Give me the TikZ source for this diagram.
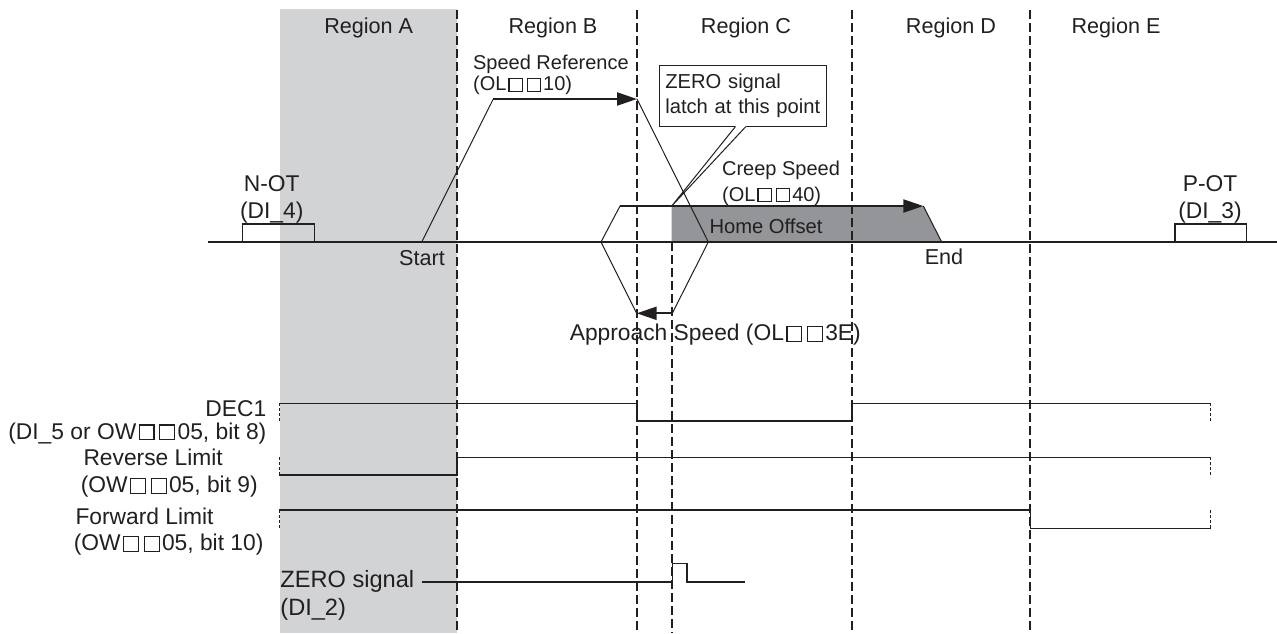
\documentclass[tikz,border=0pt]{standalone}
\usepackage{fontspec}
\setmainfont{Liberation Sans}
\usepackage{tikz}
\usetikzlibrary{arrows.meta}
\definecolor{ink}{RGB}{35,31,32}
\definecolor{regiongray}{RGB}{209,211,212}
\definecolor{offsetgray}{RGB}{147,149,152}
\newcommand{\sqbox}{{\kern0.1em\fboxsep=0pt\fboxrule=0.6pt%
  \fbox{\rule{0pt}{0.6em}\hspace{0.6em}}\kern0.1em}}
\newcommand{\setfs}[2]{\fontsize{#1}{#2}\selectfont}

\begin{document}
\begin{tikzpicture}[x=0.5pt, y=-0.5pt, >={Triangle[length=10pt,width=6.5pt]},
  every node/.style={text=ink, inner sep=0pt},
  note/.style={font=\setfs{10.1pt}{12.5pt}},
  marklbl/.style={font=\setfs{10.8pt}{12.5pt}},
  siglbl/.style={font=\setfs{11.4pt}{13.3pt}},
  regionline/.style={ink, line width=1.2pt, dash pattern=on 4.5pt off 2pt},
  sigline/.style={ink, line width=0.6pt},
  undef/.style={ink, line width=0.5pt, dash pattern=on 1.5pt off 1pt},
  slope/.style={ink, line width=0.5pt},
  speedarrow/.style={->, ink, line width=1.1pt},
  callout/.style={note, draw=ink, line width=0.5pt, fill=white, align=left,
    text width=77.7pt, minimum height=30.2pt, inner xsep=3pt}]
  \useasboundingbox (0,0) rectangle (1277,633);

  % Region A background
  \fill[regiongray] (280,9) rectangle (457,633);

  % Key points of the speed profile
  \coordinate (start) at (421.7,242);
  \coordinate (top1) at (493.3,99);
  \coordinate (top2) at (637,99);
  \coordinate (rev1) at (708.3,242);
  \coordinate (app1) at (672.3,313.3);
  \coordinate (app2) at (636.7,313.3);
  \coordinate (rev2) at (601,242);
  \coordinate (crp1) at (620,206);
  \coordinate (crp2) at (923.3,206);
  \coordinate (stop) at (941.7,242);
  \coordinate (latch) at (671.7,206);

  % Home offset area
  \fill[offsetgray] (latch) -- (crp2) -- (stop) -- (671.7,242) -- cycle;
  \node[note] (offset) at (766,226.7) {Home Offset};

  % Axis and overtravel switches
  \draw[sigline] (208,242) -- (1277,242);
  \draw[sigline] (242.7,242) -- (242.7,224) -- (314.3,224) -- (314.3,242);
  \draw[sigline] (1175,242) -- (1175,224) -- (1246.7,224) -- (1246.7,242);
  \node[siglbl, align=center] (not) at (271.7,199.5) {N-OT\\(DI\_4)};
  \node[siglbl, align=center] (pot) at (1210,199.5) {P-OT\\(DI\_3)};

  % Callout for the latch point
  \node[callout] (zbox) at (743,95.9) {ZERO signal\\latch at this point};
  \fill[white] ([xshift=-3.4pt,yshift=0.5pt]zbox.south) -- (latch)
    -- ([xshift=1.8pt,yshift=0.5pt]zbox.south) -- cycle;
  \draw[slope] ([xshift=-3.8pt]zbox.south) -- (latch) -- ([xshift=1.4pt]zbox.south);

  % Speed profile
  \draw[slope] (start) -- (top1);
  \draw[speedarrow] (top1) -- (top2);
  \draw[slope] (top2) -- (rev1) -- (app1);
  \draw[speedarrow] (app1) -- (app2);
  \draw[slope] (app2) -- (rev2) -- (crp1);
  \draw[speedarrow] (crp1) -- (crp2);
  \draw[slope] (crp2) -- (stop);

  \node[note, align=left, anchor=west, font=\setfs{10pt}{10.5pt}]
    (sref) at (472.7,75.3) {Speed Reference\\(OL\sqbox\sqbox10)};
  \node[note, align=left, anchor=west, font=\setfs{10pt}{13pt}]
    (creep) at (721.7,183) {Creep Speed\\(OL\sqbox\sqbox40)};
  \node[siglbl] (approach) at (715.3,335) {Approach Speed (OL\sqbox\sqbox3E)};
  \node[marklbl] (startlbl) at (422,258) {Start};
  \node[marklbl] (endlbl) at (944,257) {End};

  % Region labels
  \node[marklbl] (regA) at (368.7,28) {Region A};
  \node[marklbl] (regB) at (553,28) {Region B};
  \node[marklbl] (regC) at (746,28) {Region C};
  \node[marklbl] (regD) at (951,28) {Region D};
  \node[marklbl] (regE) at (1116,28) {Region E};

  % Signals
  \draw[sigline] (279.3,403.3) -- (637,403.3) -- (637,421) -- (852,421)
    -- (852,403.3) -- (1210.7,403.3);
  \draw[sigline] (279.3,475) -- (457,475) -- (457,457.3) -- (1210.7,457.3);
  \draw[sigline] (279.3,510) -- (1030.5,510) -- (1030.5,528.3) -- (1210.7,528.3);
  \draw[sigline] (421.7,582) -- (672.7,582) -- (672.7,563.3) -- (687,563.3)
    -- (687,582) -- (745,582);
  \foreach \ya/\yb in {403.3/421, 457.3/475, 510/528.3} {
    \draw[undef] (279.3,\ya) -- (279.3,\yb);
    \draw[undef] (1210.7,\ya) -- (1210.7,\yb);
  }

  \node[siglbl, align=right, anchor=east, font=\setfs{11.4pt}{11.3pt}]
    (declbl) at (266.7,422.3) {DEC1\\(DI\_5 or OW\sqbox\sqbox05, bit 8)};
  \node[siglbl, align=left, anchor=west]
    (revlbl) at (80.5,473.3) {\hspace{1.3pt}Reverse Limit\\(OW\sqbox\sqbox05, bit 9)};
  \node[siglbl, align=left, anchor=west]
    (fwdlbl) at (73.5,531.7) {\hspace{0.8pt}Forward Limit\\(OW\sqbox\sqbox05, bit 10)};
  \node[siglbl, align=left, anchor=west, font=\setfs{11.8pt}{13.8pt}]
    (zerolbl) at (280,595.5) {ZERO signal\\(DI\_2)};

  % Region borders
  \foreach \xr in {457,637,852,1030} {
    \draw[regionline] (\xr,10) -- (\xr,633);
  }
  \draw[regionline] (671.7,242) -- (671.7,633);
\end{tikzpicture}
\end{document}
